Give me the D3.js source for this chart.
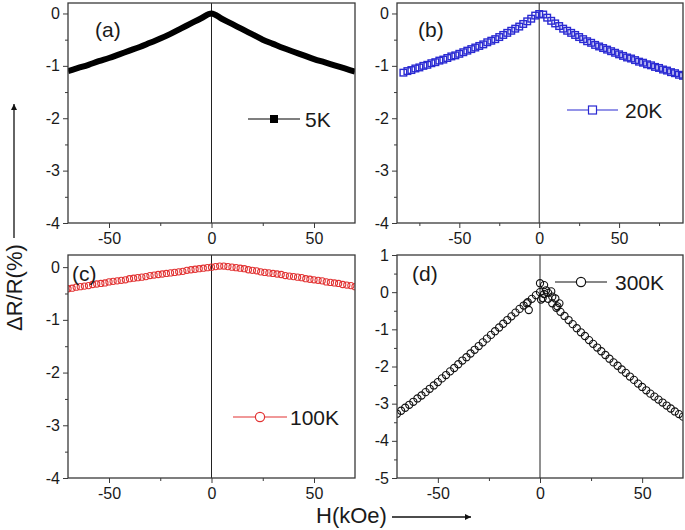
<!DOCTYPE html>
<html><head><meta charset="utf-8">
<script src="https://cdn.jsdelivr.net/npm/d3@7"></script>
<style>body{margin:0;background:#fff}svg{display:block}text{font-family:"Liberation Sans",Arial,sans-serif}</style>
</head><body><svg id="c" width="685" height="530"></svg>
<script>
// ---------- data ----------
const H_A = [-70,-65,-60,-55,-50,-45,-40,-35,-30,-25,-20,-15,-10,-5,0,5,10,15,20,25,30,35,40,45,50,55,60,65,70];
const R_A = [-1.10,-1.04,-0.98,-0.91,-0.85,-0.78,-0.71,-0.64,-0.56,-0.48,-0.39,-0.29,-0.19,-0.09,0.00,-0.10,-0.20,-0.30,-0.40,-0.50,-0.58,-0.66,-0.73,-0.80,-0.87,-0.93,-0.99,-1.05,-1.11];

const H_B = [-85,-82.5,-80,-77.5,-75,-72.5,-70,-67.5,-65,-62.5,-60,-57.5,-55,-52.5,-50,-47.5,-45,-42.5,-40,-37.5,-35,-32.5,-30,-27.5,-25,-22.5,-20,-17.5,-15,-12.5,-10,-7.5,-5,-2.5,0,2.5,5,7.5,10,12.5,15,17.5,20,22.5,25,27.5,30,32.5,35,37.5,40,42.5,45,47.5,50,52.5,55,57.5,60,62.5,65,67.5,70,72.5,75,77.5,80,82.5,85,87.5,90];
const R_B = [-1.13,-1.10,-1.08,-1.05,-1.03,-1.00,-0.98,-0.95,-0.93,-0.90,-0.88,-0.85,-0.82,-0.80,-0.77,-0.74,-0.71,-0.68,-0.65,-0.62,-0.59,-0.55,-0.52,-0.49,-0.45,-0.41,-0.37,-0.33,-0.29,-0.25,-0.20,-0.15,-0.10,-0.04,-0.01,-0.02,-0.08,-0.14,-0.19,-0.24,-0.29,-0.33,-0.37,-0.41,-0.45,-0.49,-0.53,-0.56,-0.60,-0.63,-0.66,-0.69,-0.72,-0.75,-0.78,-0.81,-0.84,-0.86,-0.89,-0.92,-0.94,-0.97,-0.99,-1.02,-1.04,-1.07,-1.09,-1.12,-1.14,-1.17,-1.19];

const H_C = [-70,-68,-66,-64,-62,-60,-58,-56,-54,-52,-50,-48,-46,-44,-42,-40,-38,-36,-34,-32,-30,-28,-26,-24,-22,-20,-18,-16,-14,-12,-10,-8,-6,-4,-2,0,2,4,6,8,10,12,14,16,18,20,22,24,26,28,30,32,34,36,38,40,42,44,46,48,50,52,54,56,58,60,62,64,66,68,70];
const R_C = [-0.41,-0.40,-0.38,-0.37,-0.36,-0.35,-0.33,-0.32,-0.31,-0.30,-0.28,-0.27,-0.26,-0.25,-0.24,-0.22,-0.21,-0.20,-0.19,-0.18,-0.16,-0.15,-0.14,-0.13,-0.12,-0.11,-0.10,-0.09,-0.08,-0.06,-0.05,-0.04,-0.03,-0.02,-0.01,0.00,0.01,0.02,0.02,0.01,0.00,-0.01,-0.02,-0.03,-0.05,-0.06,-0.07,-0.09,-0.10,-0.11,-0.12,-0.13,-0.14,-0.16,-0.17,-0.18,-0.19,-0.20,-0.22,-0.23,-0.24,-0.25,-0.26,-0.28,-0.29,-0.30,-0.31,-0.33,-0.34,-0.35,-0.37];

const H_D = [-70,-68,-66,-64,-62,-60,-58,-56,-54,-52,-50,-48,-46,-44,-42,-40,-38,-36,-34,-32,-30,-28,-26,-24,-22,-20,-18,-16,-14,-12,-10,-8,-6,-4,-2,0,2,4,6,8,10,12,14,16,18,20,22,24,26,28,30,32,34,36,38,40,42,44,46,48,50,52,54,56,58,60,62,64,66,68,70];
const R_D = [-3.27,-3.19,-3.11,-3.03,-2.95,-2.86,-2.78,-2.69,-2.60,-2.51,-2.42,-2.32,-2.23,-2.13,-2.04,-1.94,-1.84,-1.75,-1.65,-1.55,-1.45,-1.35,-1.25,-1.15,-1.05,-0.95,-0.85,-0.75,-0.65,-0.55,-0.45,-0.36,-0.27,-0.18,-0.08,0.00,-0.05,-0.18,-0.30,-0.42,-0.53,-0.64,-0.75,-0.86,-0.97,-1.08,-1.18,-1.29,-1.39,-1.49,-1.59,-1.69,-1.79,-1.89,-1.98,-2.08,-2.17,-2.27,-2.36,-2.46,-2.55,-2.64,-2.73,-2.81,-2.89,-2.97,-3.05,-3.13,-3.21,-3.28,-3.35];
// scattered points near zero field (300K)
const H_D2 = [0,2,0.5,1.3,4,5.5,6,7.5,8.5,-5.5,-6.5,3,9.5];
const R_D2 = [0.24,0.19,-0.20,-0.16,-0.02,0.02,-0.12,-0.17,-0.38,-0.48,-0.30,0.05,-0.30];

const labels = ["(a)","(b)","(c)","(d)"];
const legendNames = ["5K","20K","100K","300K"];
const xTicksAC = [-50,0,50], xMinorAC = [-75,-25,25,75];
const yTicks4 = [-4,-3,-2,-1,0], yMinor4 = [-3.5,-2.5,-1.5,-0.5];
const yTicksD = [-5,-4,-3,-2,-1,0,1], yMinorD = [-4.5,-3.5,-2.5,-1.5,-0.5,0.5];
const yTitle = "\u0394R/R(%)", xTitle = "H(kOe)";

// ---------- layout ----------
const svg = d3.select("#c");
const AX = "#3a3a3a";
const panels = [
  {H:H_A,R:R_A,x0:68,x1:355,y0:3,y1:223,xd:[-70,70],yd:[-4,0.2],yt:yTicks4,ym:yMinor4,kind:"line",color:"#000",
   lab:[95,37], leg:{x0:248,x1:300,y:119,tx:305,ty:127}},
  {H:H_B,R:R_B,x0:397,x1:683,y0:3,y1:223,xd:[-89,90],yd:[-4,0.2],yt:yTicks4,ym:yMinor4,kind:"square",color:"#2a2ad2",
   lab:[418,37], leg:{x0:567,x1:618,y:110,tx:625,ty:118}},
  {H:H_C,R:R_C,x0:68,x1:355,y0:255,y1:478,xd:[-70,70],yd:[-4,0.23],yt:yTicks4,ym:yMinor4,kind:"circle",color:"#e23333",r:3.1,sw:1.1,
   lab:[72,281], leg:{x0:233,x1:287,y:417,tx:290,ty:425}},
  {H:H_D,R:R_D,x0:397,x1:683,y0:255,y1:478,xd:[-70,70],yd:[-5,1],yt:yTicksD,ym:yMinorD,kind:"circle",color:"#111",r:3.6,sw:1.1,
   extraH:H_D2, extraR:R_D2,
   lab:[412,281], leg:{x0:555,x1:607,y:282,tx:615,ty:290}}
];

panels.forEach((p,i)=>{
  const x = d3.scaleLinear().domain(p.xd).range([p.x0,p.x1]);
  const y = d3.scaleLinear().domain(p.yd).range([p.y1,p.y0]);
  const g = svg.append("g");
  const clipId = "clip"+i;
  svg.append("clipPath").attr("id",clipId).append("rect")
    .attr("x",p.x0).attr("y",p.y0).attr("width",p.x1-p.x0).attr("height",p.y1-p.y0);

  // zero line
  g.append("line").attr("x1",x(0)).attr("x2",x(0)).attr("y1",p.y0).attr("y2",p.y1)
    .attr("stroke","#222").attr("stroke-width",1);

  // data
  const pts = p.H.map((h,k)=>[h,p.R[k]]);
  const dg = g.append("g").attr("clip-path",`url(#${clipId})`);
  if(p.kind==="line"){
    dg.append("path").datum(pts)
      .attr("d",d3.line().x(d=>x(d[0])).y(d=>y(d[1])).curve(d3.curveMonotoneX))
      .attr("fill","none").attr("stroke","#000").attr("stroke-width",6).attr("stroke-linejoin","round");
  } else if(p.kind==="square"){
    dg.selectAll("rect").data(pts).join("rect")
      .attr("x",d=>x(d[0])-3.3).attr("y",d=>y(d[1])-3.3).attr("width",6.6).attr("height",6.6)
      .attr("fill","none").attr("stroke",p.color).attr("stroke-width",1.4);
  } else {
    const all = p.extraH ? pts.concat(p.extraH.map((h,k)=>[h,p.extraR[k]])) : pts;
    dg.selectAll("circle").data(all).join("circle")
      .attr("cx",d=>x(d[0])).attr("cy",d=>y(d[1])).attr("r",p.r)
      .attr("fill","none").attr("stroke",p.color).attr("stroke-width",p.sw);
  }

  // axes
  const xt = xTicksAC;
  const xm = xMinorAC.filter(v=>v>p.xd[0]&&v<p.xd[1]);
  const xa = g.append("g").attr("transform",`translate(0,${p.y1})`)
    .call(d3.axisBottom(x).tickValues(xt).tickSize(5).tickPadding(5).tickFormat(d=>String(d)));
  const xa2 = g.append("g").attr("transform",`translate(0,${p.y1})`)
    .call(d3.axisBottom(x).tickValues(xm).tickSize(3).tickFormat(""));
  const ya = g.append("g").attr("transform",`translate(${p.x0},0)`)
    .call(d3.axisLeft(y).tickValues(p.yt).tickSize(5).tickPadding(3).tickFormat(d=>String(d)));
  const ya2 = g.append("g").attr("transform",`translate(${p.x0},0)`)
    .call(d3.axisLeft(y).tickValues(p.ym).tickSize(3).tickFormat(""));
  [xa,xa2,ya,ya2].forEach(a=>{
    a.select(".domain").remove();
    a.selectAll("line").attr("stroke",AX).attr("stroke-width",1);
    a.selectAll("text").attr("fill","#1a1a1a").style("font-size","16px");
  });
  // frame
  g.append("rect").attr("x",p.x0).attr("y",p.y0).attr("width",p.x1-p.x0).attr("height",p.y1-p.y0)
    .attr("fill","none").attr("stroke",AX).attr("stroke-width",1.3);

  // panel label
  g.append("text").attr("x",p.lab[0]).attr("y",p.lab[1]).text(labels[i])
    .style("font-size","21px").attr("fill","#1a1a1a");

  // legend
  const L = p.leg;
  g.append("line").attr("x1",L.x0).attr("x2",L.x1).attr("y1",L.y).attr("y2",L.y)
    .attr("stroke",p.color).attr("stroke-width",1.2);
  const mx = (L.x0+L.x1)/2;
  if(p.kind==="line"){
    g.append("rect").attr("x",mx-4).attr("y",L.y-4).attr("width",8).attr("height",8).attr("fill","#000");
  } else if(p.kind==="square"){
    g.append("rect").attr("x",mx-4).attr("y",L.y-4).attr("width",8).attr("height",8)
      .attr("fill","#fff").attr("stroke",p.color).attr("stroke-width",1.2);
  } else {
    g.append("circle").attr("cx",mx).attr("cy",L.y).attr("r",4.6)
      .attr("fill","#fff").attr("stroke",p.color).attr("stroke-width",1.2);
  }
  g.append("text").attr("x",L.tx).attr("y",L.ty).text(legendNames[i])
    .style("font-size","21px").attr("fill","#1a1a1a");
});

// axis titles with arrows
svg.append("defs").append("marker").attr("id","arr").attr("viewBox","0 0 10 10")
  .attr("refX",10).attr("refY",5).attr("markerWidth",10).attr("markerHeight",6)
  .attr("markerUnits","userSpaceOnUse").attr("orient","auto")
  .append("path").attr("d","M0,0L10,5L0,10z").attr("fill","#111");

svg.append("text").attr("transform","translate(22,331) rotate(-90)").text(yTitle)
  .style("font-size","22px").attr("fill","#1a1a1a");
svg.append("line").attr("x1",14).attr("x2",14).attr("y1",238).attr("y2",104)
  .attr("stroke","#111").attr("stroke-width",1.3).attr("marker-end","url(#arr)");

svg.append("text").attr("x",316).attr("y",523).text(xTitle)
  .style("font-size","22px").attr("fill","#1a1a1a");
svg.append("line").attr("x1",392).attr("x2",471).attr("y1",517).attr("y2",517)
  .attr("stroke","#111").attr("stroke-width",1.3).attr("marker-end","url(#arr)");
</script></body></html>
